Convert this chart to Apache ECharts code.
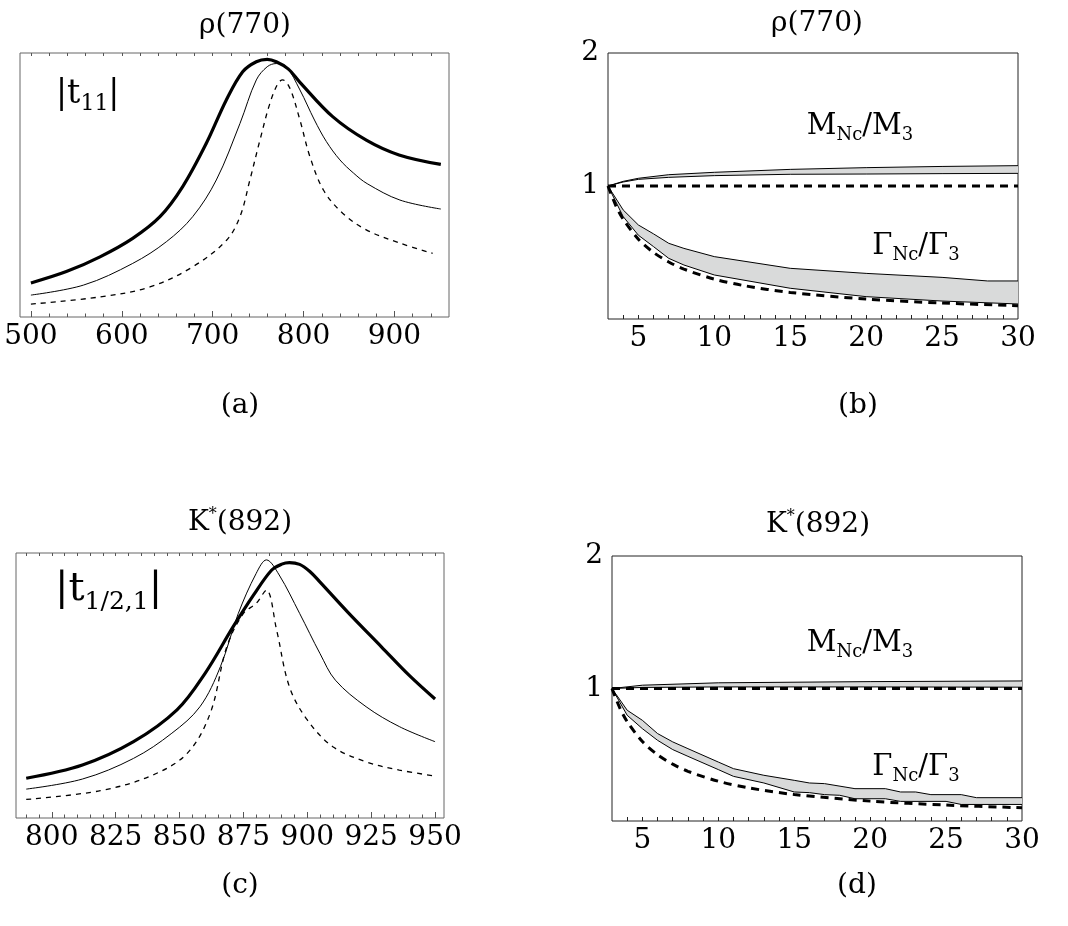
<!DOCTYPE html>
<html><head><meta charset="utf-8">
<script src="https://cdn.jsdelivr.net/npm/echarts@6/dist/echarts.min.js"></script>
<style>html,body{margin:0;padding:0;background:#fff}#c{width:1068px;height:926px}</style>
</head><body><div id="c"></div>
<script>
// ---------- Panel (a): rho(770) |t11| ----------
const aThickX = [500,539,576,612,642,667,693,715,733,748,760,770,783,796,832,869,905,951];
const aThickY = [0.129,0.172,0.228,0.298,0.38,0.494,0.658,0.822,0.929,0.967,0.976,0.967,0.94,0.889,0.759,0.67,0.614,0.578];
const aThinX = [500,558,612,649,678,704,730,748,760,770,781,796,812,825,840,855,870,906,951];
const aThinY = [0.083,0.121,0.203,0.285,0.38,0.519,0.733,0.898,0.948,0.96,0.948,0.86,0.746,0.665,0.595,0.545,0.505,0.443,0.409];
const aDashX = [500,576,631,678,715,730,741,752,763,772,777,785,796,807,822,843,869,906,942];
const aDashY = [0.049,0.076,0.114,0.19,0.29,0.38,0.52,0.67,0.81,0.886,0.898,0.866,0.746,0.607,0.48,0.393,0.33,0.28,0.241];
const aMajorTicks = [500,600,700,800,900];
const aMinorTicks = [520,540,560,580,620,640,660,680,720,740,760,780,820,840,860,880,920,940];
const aAllTicks = [500,520,540,560,580,600,620,640,660,680,700,720,740,760,780,800,820,840,860,880,900,920,940];

// ---------- Panel (c): K*(892) |t1/2,1| ----------
const cThickX = [790,812,832,849,860,871,879,886,890,893,897,901,905,916,929,940,950];
const cThickY = [0.15,0.2,0.288,0.408,0.546,0.722,0.842,0.935,0.958,0.964,0.957,0.93,0.89,0.775,0.646,0.537,0.449];
const cThinX = [790,812,832,847,858,866,873,880,884,889,897,905,911,923,936,950];
const cThinY = [0.109,0.147,0.225,0.32,0.42,0.571,0.772,0.923,0.974,0.917,0.772,0.62,0.52,0.42,0.345,0.288];
const cDashX = [790,819,839,853,862,868.5,875,880,884,888,893,900,910,923,936,949];
const cDashY = [0.07,0.103,0.16,0.244,0.395,0.646,0.772,0.81,0.86,0.709,0.495,0.37,0.269,0.212,0.181,0.16];
const cMajorTicks = [800,825,850,875,900,925,950];
const cMinorTicks = [790,795,805,810,815,820,830,835,840,845,855,860,865,870,880,885,890,895,905,910,915,920,930,935,940,945];
const cAllTicks = [790,795,800,805,810,815,820,825,830,835,840,845,850,855,860,865,870,875,880,885,890,895,900,905,910,915,920,925,930,935,940,945,950];

// ---------- Panel (b): rho(770) vs Nc ----------
const bMUpperX = [3,4,5,7,10,15,20,25,30];
const bMUpperY = [1,1.035,1.058,1.085,1.103,1.125,1.138,1.147,1.153];
const bMLowerX = [3,4,5,7,10,15,20,25,30];
const bMLowerY = [1,1.03,1.05,1.065,1.078,1.088,1.09,1.093,1.095];
const bGUpperX = [3,4,5,6,7,8,10,15,20,25,28,30];
const bGUpperY = [1,0.82,0.707,0.64,0.569,0.531,0.469,0.381,0.343,0.313,0.286,0.286];
const bGLowerX = [3,4,5,6,7,8,10,15,20,25,30];
const bGLowerY = [1,0.77,0.63,0.544,0.456,0.406,0.331,0.231,0.168,0.135,0.113];

// ---------- Panel (d): K*(892) vs Nc ----------
const dMUpperX = [3,5,10,20,30];
const dMUpperY = [1,1.025,1.043,1.052,1.057];
const dMLowerX = [3,5,10,20,30];
const dMLowerY = [1,1.008,1.012,1.012,1.01];
const dGUpperX = [3,4,5,6,7,8,10,11,13,15,16,17,19,21,22,23,24,26,27,30];
const dGUpperY = [1,0.836,0.76,0.66,0.597,0.546,0.445,0.395,0.345,0.307,0.287,0.282,0.244,0.244,0.219,0.219,0.199,0.199,0.176,0.176];
const dGLowerX = [3,4,5,6,7,8,10,11,13,15,16,17,18,19,21,22,25,26,30];
const dGLowerY = [1,0.798,0.697,0.609,0.539,0.488,0.388,0.337,0.287,0.219,0.214,0.199,0.194,0.168,0.168,0.148,0.148,0.125,0.125];

// Reference (dashed) curves, shared by (b) and (d)
const refMassX = [3,30];
const refMassY = [1,1];
const refWidthX = [3,3.5,4,5,6,7,8,10,12,15,20,25,30];
const refWidthY = [1,0.857,0.75,0.6,0.5,0.429,0.375,0.3,0.25,0.2,0.15,0.12,0.1];
const ncLabels = [5,10,15,20,25,30];
const ncTicks = [4,5,6,7,8,9,10,11,12,13,14,15,16,17,18,19,20,21,22,23,24,25,26,27,28,29];
const ratioLabels = [1,2];

const FONT = 'DejaVu Serif';
const zip = (xs, ys) => xs.map((x, i) => [x, ys[i]]);

const grids = [
  {left:20, top:53, width:429, height:264, show:true, borderColor:'#666', borderWidth:1},
  {left:608, top:53, width:410, height:266, show:true, borderColor:'#222', borderWidth:1},
  {left:16, top:553, width:428, height:265, show:true, borderColor:'#666', borderWidth:1},
  {left:612, top:556, width:410, height:265, show:true, borderColor:'#222', borderWidth:1}
];

function xAx(grid, min, max, pos, labels, ticks, len, color) {
  return {
    type:'value', gridIndex:grid, min:min, max:max, position:pos,
    axisLine:{show:false, onZero:false}, splitLine:{show:false},
    axisTick:{show:!!ticks, inside:true, length:len, customValues:ticks || [], lineStyle:{color:color, width:1}},
    axisLabel:{show:!!labels, customValues:labels || [], margin:6, color:'#000', fontFamily:FONT, fontSize:28}
  };
}
const xAxes = [
  xAx(0, 488, 960, 'bottom', aMajorTicks, aMajorTicks, 6, '#555'),
  xAx(0, 488, 960, 'bottom', null, aMinorTicks, 3.5, '#555'),
  xAx(0, 488, 960, 'top', null, aAllTicks, 3, '#555'),
  xAx(1, 3, 30, 'bottom', ncLabels, ncTicks, 4, '#222'),
  xAx(2, 786, 953.5, 'bottom', cMajorTicks, cMajorTicks, 6, '#555'),
  xAx(2, 786, 953.5, 'bottom', null, cMinorTicks, 3.5, '#555'),
  xAx(2, 786, 953.5, 'top', null, cAllTicks, 3, '#555'),
  xAx(3, 3, 30, 'bottom', ncLabels, ncTicks, 4, '#222')
];
function yHidden(grid) {
  return {type:'value', gridIndex:grid, min:0, max:1, show:true,
    axisLine:{show:false}, axisTick:{show:false}, axisLabel:{show:false}, splitLine:{show:false}};
}
function yRatio(grid) {
  return {type:'value', gridIndex:grid, min:0, max:2, interval:1,
    axisLine:{show:false}, axisTick:{show:false}, splitLine:{show:false},
    axisLabel:{customValues:ratioLabels, margin:9, color:'#000', fontFamily:FONT, fontSize:28}};
}
const yAxes = [yHidden(0), yRatio(1), yHidden(2), yRatio(3)];

function line(xi, yi, xs, ys, width, dash, smooth) {
  return {type:'line', xAxisIndex:xi, yAxisIndex:yi, data:zip(xs, ys), showSymbol:false, symbol:'none',
    smooth:smooth, silent:true, z:3,
    lineStyle:{color:'#000', width:width, type:dash ? dash : 'solid'}};
}
function band(xi, yi, ux, uy, lx, ly) {
  return {type:'custom', xAxisIndex:xi, yAxisIndex:yi, data:[[ux[0], uy[0]]], silent:true, z:1,
    renderItem: function (params, api) {
      const pts = [];
      for (let i = 0; i < ux.length; i++) pts.push(api.coord([ux[i], uy[i]]));
      for (let i = lx.length - 1; i >= 0; i--) pts.push(api.coord([lx[i], ly[i]]));
      return {type:'polygon', shape:{points:pts}, style:{fill:'#d9dada', stroke:null}};
    }};
}

const series = [
  line(0, 0, aThickX, aThickY, 3.2, null, 0.35),
  line(0, 0, aThinX, aThinY, 1, null, 0.35),
  line(0, 0, aDashX, aDashY, 1.3, [5,5], 0.35),

  band(3, 1, bMUpperX, bMUpperY, bMLowerX, bMLowerY),
  band(3, 1, bGUpperX, bGUpperY, bGLowerX, bGLowerY),
  line(3, 1, bMUpperX, bMUpperY, 1, null, false),
  line(3, 1, bMLowerX, bMLowerY, 1, null, false),
  line(3, 1, bGUpperX, bGUpperY, 1, null, false),
  line(3, 1, bGLowerX, bGLowerY, 1, null, false),
  line(3, 1, refMassX, refMassY, 3, [8,6], false),
  line(3, 1, refWidthX, refWidthY, 3, [8,6], 0.3),

  line(4, 2, cThickX, cThickY, 3.2, null, 0.35),
  line(4, 2, cThinX, cThinY, 1, null, 0.35),
  line(4, 2, cDashX, cDashY, 1.3, [5,5], 0.35),

  band(7, 3, dMUpperX, dMUpperY, dMLowerX, dMLowerY),
  band(7, 3, dGUpperX, dGUpperY, dGLowerX, dGLowerY),
  line(7, 3, dMUpperX, dMUpperY, 1, null, false),
  line(7, 3, dMLowerX, dMLowerY, 1, null, false),
  line(7, 3, dGUpperX, dGUpperY, 1, null, false),
  line(7, 3, dGLowerX, dGLowerY, 1, null, false),
  line(7, 3, refMassX, refMassY, 3, [8,6], false),
  line(7, 3, refWidthX, refWidthY, 3, [8,6], 0.3)
];

function txt(x, y, text, rich, align) {
  return {type:'text', x:x, y:y, silent:true, z:10,
    style:{text:text, rich:rich, align:align || 'center', verticalAlign:'middle', fill:'#000', fontFamily:FONT, fontSize:28}};
}
const richTitle = {
  m:{fontFamily:FONT, fontSize:28, color:'#000'},
  sup:{fontFamily:FONT, fontSize:16, color:'#000', padding:[0,0,16,0]}
};
const richRatio = {
  m:{fontFamily:FONT, fontSize:29, color:'#000'},
  s:{fontFamily:FONT, fontSize:18, color:'#000', padding:[18,0,0,0]}
};
const richT11 = {
  m:{fontFamily:FONT, fontSize:33, color:'#000'},
  s:{fontFamily:FONT, fontSize:22, color:'#000', padding:[20,0,0,0]}
};
const richT12 = {
  m:{fontFamily:FONT, fontSize:40, color:'#000'},
  s:{fontFamily:FONT, fontSize:25, color:'#000', padding:[24,0,0,0]}
};

const graphics = [
  txt(245, 26, '{m|ρ(770)}', richTitle),
  txt(817, 24, '{m|ρ(770)}', richTitle),
  txt(240, 523, '{m|K}{sup|*}{m|(892)}', richTitle),
  txt(818, 525, '{m|K}{sup|*}{m|(892)}', richTitle),
  txt(240, 406, '(a)'),
  txt(858, 406, '(b)'),
  txt(240, 886, '(c)'),
  txt(857, 886, '(d)'),
  txt(56, 94, '{m|\u007Ct}{s|11}{m|\u007C}', richT11, 'left'),
  txt(55, 590, '{m|\u007Ct}{s|1/2,1}{m|\u007C}', richT12, 'left'),
  txt(860, 126, '{m|M}{s|Nc}{m|/M}{s|3}', richRatio),
  txt(916, 246, '{m|Γ}{s|Nc}{m|/Γ}{s|3}', richRatio),
  txt(860, 643, '{m|M}{s|Nc}{m|/M}{s|3}', richRatio),
  txt(916, 767, '{m|Γ}{s|Nc}{m|/Γ}{s|3}', richRatio)
];

const chart = echarts.init(document.getElementById('c'), null, {renderer:'canvas'});
chart.setOption({
  animation:false,
  backgroundColor:'#fff',
  grid:grids,
  xAxis:xAxes,
  yAxis:yAxes,
  series:series,
  graphic:graphics
});
</script>
</body></html>
